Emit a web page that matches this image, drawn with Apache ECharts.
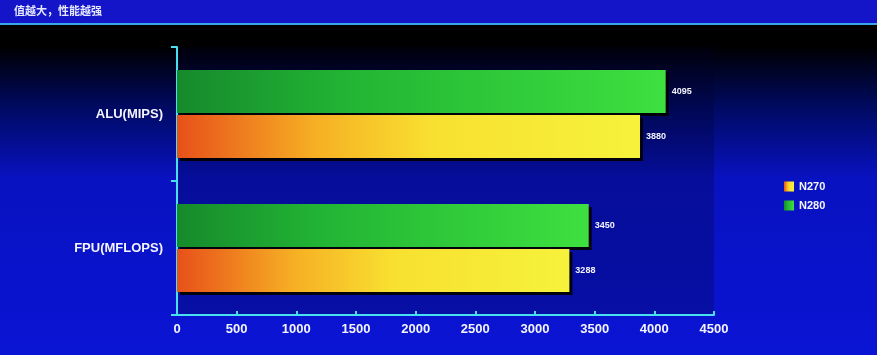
<!DOCTYPE html>
<html><head><meta charset="utf-8">
<script src="https://cdn.jsdelivr.net/npm/echarts@6/dist/echarts.min.js"></script>
<style>html,body{margin:0;padding:0;background:#000;}#c{width:877px;height:355px;}</style>
</head><body><div id="c"></div>
<script>
var titleText = '值越大，性能越强';
var categories = ['ALU(MIPS)', 'FPU(MFLOPS)'];
var seriesNames = ['N270', 'N280'];
var n270Values = [3880, 3288];
var n280Values = [4095, 3450];
var xTicks = [0, 500, 1000, 1500, 2000, 2500, 3000, 3500, 4000, 4500];

var chart = echarts.init(document.getElementById('c'));
var white = '#f4f4ff';
var cyan = '#48e0f0';
function grad(stops){ return new echarts.graphic.LinearGradient(0,0,1,0,stops); }
var option = {
  backgroundColor: new echarts.graphic.LinearGradient(0,0,0,1,[
    {offset:0,color:'#000000'},{offset:0.13,color:'#000000'},{offset:0.3,color:'#000a60'},{offset:0.5,color:'#0812c0'},{offset:1,color:'#0a14d4'}]),
  graphic: [
    {type:'rect', shape:{x:0,y:0,width:877,height:23}, style:{fill:'#1414c8'}},
    {type:'rect', shape:{x:0,y:23,width:877,height:2}, style:{fill:'#3aa8e8'}},
    {type:'text', left:14, top:5, style:{text:titleText, fill:'#e6e8ff', font:'bold 11px "Noto Sans CJK SC"'}}
  ],
  grid: {left:177, right:163, top:47, bottom:40, show:true, backgroundColor:'rgba(0,0,40,0.25)', borderWidth:0},
  legend: {
    data: seriesNames, orient:'vertical', left:779, top:176, itemWidth:10, itemHeight:10, itemGap:8,
    icon:'rect', textStyle:{color:white, fontWeight:'bold', fontSize:11, fontFamily:'Arial'}
  },
  xAxis: {
    type:'value', min:0, max:4500, interval:500,
    axisLine:{show:true, lineStyle:{color:cyan, width:2}},
    axisTick:{show:true, inside:true, length:4, lineStyle:{color:cyan, width:2}},
    splitLine:{show:false},
    axisLabel:{color:white, fontWeight:'bold', fontSize:13, fontFamily:'Arial', margin:8,
      formatter:function(v){ return xTicks.indexOf(v)>=0 ? String(v) : ''; }}
  },
  yAxis: {
    type:'category', data:categories, inverse:true,
    axisLine:{show:true, lineStyle:{color:cyan, width:2}},
    axisTick:{show:true, length:6, lineStyle:{color:cyan, width:2}},
    axisLabel:{color:white, fontWeight:'bold', fontSize:13, fontFamily:'Arial', margin:14}
  },
  series: [
    {name:'N280', type:'bar', data:n280Values, barWidth:43, barGap:'5%',
      itemStyle:{color:grad([{offset:0,color:'#168a2c'},{offset:0.35,color:'#22b434'},{offset:1,color:'#3ee040'}]),
        shadowColor:'rgba(0,0,0,0.9)', shadowOffsetX:3, shadowOffsetY:3, shadowBlur:0},
      label:{show:true, position:'right', color:white, fontWeight:'bold', fontSize:9, fontFamily:'Arial', distance:6}},
    {name:'N270', type:'bar', data:n270Values, barWidth:43,
      itemStyle:{color:grad([{offset:0,color:'#e8501a'},{offset:0.3,color:'#f6b024'},{offset:0.55,color:'#f8e030'},{offset:1,color:'#f6f23c'}]),
        shadowColor:'rgba(0,0,0,0.9)', shadowOffsetX:3, shadowOffsetY:3, shadowBlur:0},
      label:{show:true, position:'right', color:white, fontWeight:'bold', fontSize:9, fontFamily:'Arial', distance:6}}
  ],
  color:['#2ec838','#f2c020']
};
chart.setOption(option);
</script></body></html>
